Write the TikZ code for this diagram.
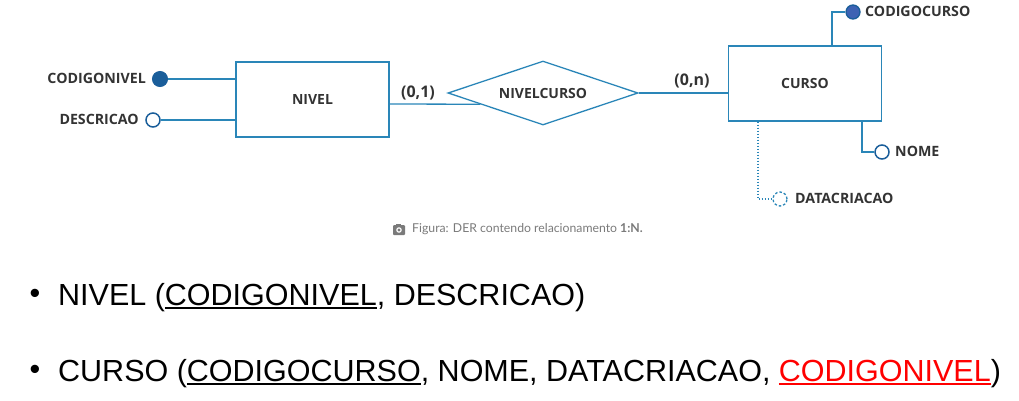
\documentclass[tikz,border=0pt]{standalone}
\usepackage{fontspec}
\setmainfont{Open Sans}
\newfontfamily\capfont{Lato}
\newfontfamily\arialfont{Liberation Sans}
\usetikzlibrary{shapes.geometric,calc}
\definecolor{erline}{HTML}{2A86B8}
\definecolor{erdark}{HTML}{1A5E9A}
\definecolor{erpk}{HTML}{3D62B3}
\definecolor{ertext}{HTML}{333333}
\definecolor{capgrey}{HTML}{7A7A7A}
\definecolor{fkred}{HTML}{FF0000}
\newcommand{\keyul}[1]{\leavevmode\vtop{\hbox{#1}\kern1.8pt\hrule height 1.9pt}}
\tikzset{
  ent/.style={draw=erline, line width=1.3pt, minimum width=153pt, minimum height=75pt, inner sep=0pt, font=\fontsize{14}{16}\selectfont\bfseries, text=ertext},
  rel/.style={diamond, aspect=3, draw=erline, line width=1.3pt, minimum width=190pt, minimum height=64pt, inner sep=0pt, font=\fontsize{14}{16}\selectfont\bfseries, text=ertext},
  conn/.style={draw=erline, line width=1.3pt},
  pkdot/.style={circle, fill=erdark, draw=erdark, line width=1pt, minimum size=15pt, inner sep=0pt},
  pkdot2/.style={circle, fill=erpk, draw=erdark, line width=1.3pt, minimum size=14pt, inner sep=0pt},
  attdot/.style={circle, fill=white, draw=erdark, line width=1.5pt, minimum size=14pt, inner sep=0pt},
  optdot/.style={circle, fill=white, draw=erline, line width=1.3pt, dash pattern=on 2.5pt off 2pt, minimum size=14pt, inner sep=0pt},
  attlbl/.style={font=\fontsize{14.2}{16}\selectfont\bfseries, text=ertext, inner sep=0pt},
  card/.style={font=\fontsize{16}{18}\selectfont\bfseries, text=ertext, inner sep=0pt},
  bigtxt/.style={font=\arialfont\fontsize{30.5}{36}\selectfont, inner sep=0pt, anchor=base west},
}
\begin{document}
\begin{tikzpicture}[x=1pt, y=-1pt]
\useasboundingbox (0,0) rectangle (1019,400);
% entities
\node[ent] (nivel) at (312.5,99.5) {NIVEL};
\node[ent] (curso) at (805,83.5) {CURSO};
\node[rel] (rel) at (543,93) {NIVELCURSO};
% relationship connectors
\coordinate (nivout) at ($(nivel.east)+(0,4.5)$);
\coordinate (relin) at ($(rel.west)!0.344!(rel.south)$);
\draw[conn] (nivout) -- (relin);
\node[card] (c01) at (418,93) {(0,1)};
\draw[conn] (rel.east) -- (rel.east -| curso.west);
\node[card] (c0n) at (692,81) {(0,n)};
% NIVEL attributes
\node[pkdot] (cn) at (160,79) {};
\draw[conn] (cn) -- (cn -| nivel.west);
\node[attlbl, anchor=east] (cnl) at (146,78.5) {CODIGONIVEL};
\node[attdot] (de) at (153,120) {};
\draw[conn] (de) -- (de -| nivel.west);
\node[attlbl, anchor=east] (del) at (139,119.5) {DESCRICAO};
% CURSO attributes
\node[pkdot2] (cc) at (853,12) {};
\draw[conn] ([xshift=27pt]curso.north) |- (cc);
\node[attlbl, anchor=west] (ccl) at (865,11.5) {CODIGOCURSO};
\node[attdot] (no) at (882,152) {};
\draw[conn] ([xshift=57pt]curso.south) |- (no);
\node[attlbl, anchor=west] (nol) at (895,151.5) {NOME};
\node[optdot] (dc) at (780,199) {};
\draw[conn, line width=1.1pt, dash pattern=on 1.5pt off 1.5pt] ([xshift=-47pt]curso.south) |- (dc);
\node[attlbl, anchor=west] (dcl) at (795,198.5) {DATACRIACAO};
% caption
\fill[capgrey, rounded corners=1pt] (393,225) rectangle (405,235);
\fill[capgrey] (396,224) rectangle (401,226);
\fill[white] (399,230) circle (2.8pt);
\fill[capgrey] (399,230) circle (1.6pt);
\node[anchor=west, inner sep=0pt, text=capgrey, font=\capfont\fontsize{12.25}{14}\selectfont] (cap) at (412,229.5) {Figura: DER contendo relacionamento \textbf{1:N.}};
% bottom text
\node[font=\arialfont\fontsize{30.5}{36}\selectfont, inner sep=0pt] (b1) at (35,296) {•};
\node[bigtxt] (t1) at (58,305) {NIVEL (\keyul{CODIGONIVEL}, DESCRICAO)};
\node[font=\arialfont\fontsize{30.5}{36}\selectfont, inner sep=0pt] (b2) at (35,372) {•};
\node[bigtxt] (t2) at (58,381) {CURSO (\keyul{CODIGOCURSO}, NOME, DATACRIACAO, \textcolor{fkred}{\keyul{CODIGONIVEL}})};
\end{tikzpicture}
\end{document}
